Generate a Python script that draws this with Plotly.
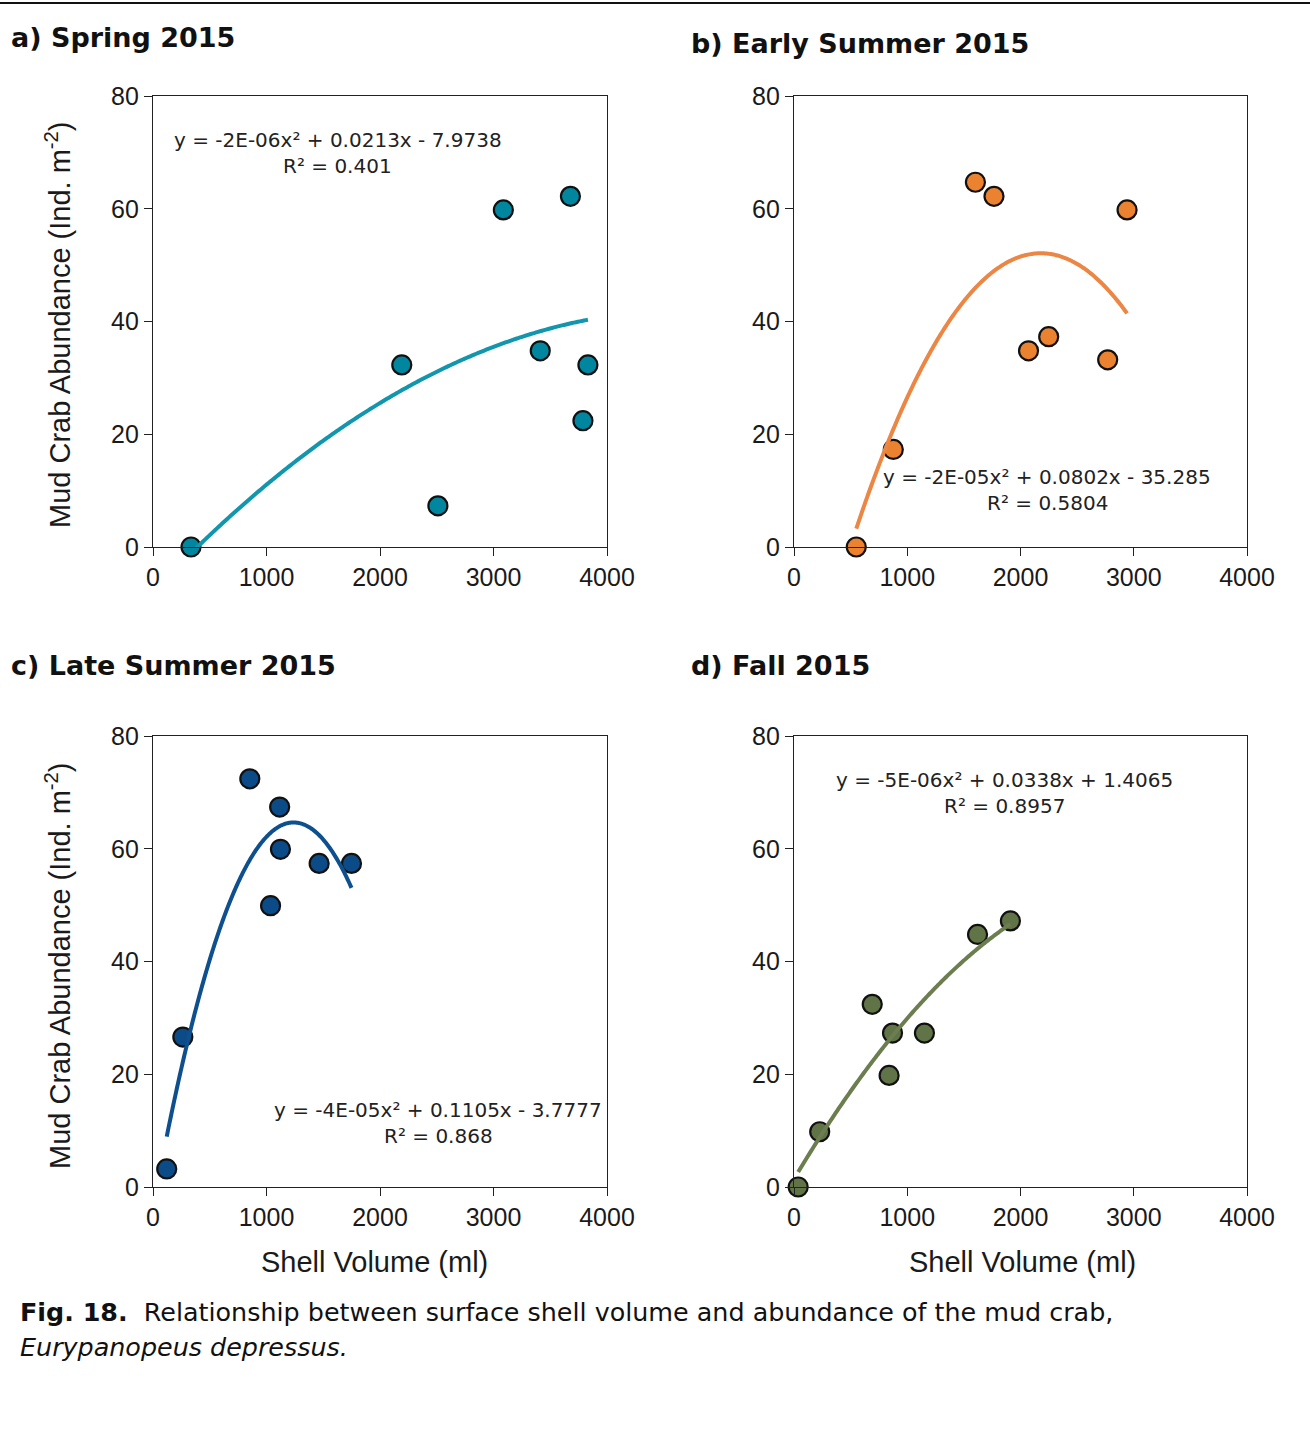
import numpy as np
import plotly.graph_objects as go

W, H = 1310, 1448

# ---- data: shell volume (ml) vs mud crab abundance (ind. m^-2) ----
spring_vol = [335, 2192, 2510, 3087, 3412, 3678, 3788, 3832]
spring_abund = [0.0, 32.3, 7.3, 59.8, 34.8, 62.2, 22.4, 32.3]

early_vol = [550, 877, 1602, 1766, 2071, 2249, 2770, 2941]
early_abund = [0.0, 17.3, 64.7, 62.2, 34.8, 37.3, 33.2, 59.8]

late_vol = [121, 263, 853, 1036, 1116, 1123, 1464, 1749]
late_abund = [3.2, 26.6, 72.4, 49.9, 67.4, 59.9, 57.4, 57.4]

fall_vol = [37, 227, 691, 840, 870, 1152, 1621, 1911]
fall_abund = [0.0, 9.8, 32.4, 19.8, 27.3, 27.3, 44.8, 47.2]

# quadratic trendline coefficients (a x^2 + b x + c)
spring_coef = [-2.27e-06, 0.0213, -7.9738]
early_coef = [-1.84e-05, 0.0802, -35.285]
late_coef = [-4.46e-05, 0.1105, -3.7777]
fall_coef = [-5.3e-06, 0.0338, 1.4065]

spring_r2 = "0.401"
early_r2 = "0.5804"
late_r2 = "0.868"
fall_r2 = "0.8957"

panel_titles = ["a) Spring 2015", "b) Early Summer 2015",
                "c) Late Summer 2015", "d) Fall 2015"]
x_ticks = [0, 1000, 2000, 3000, 4000]
y_ticks = [0, 20, 40, 60, 80]

# ---- styling ----
marker_colors = ["#00879F", "#EA822F", "#0B4C88", "#617447"]
line_colors = ["#1196AE", "#EB8644", "#0E4F8D", "#6C7D4F"]

# plot boxes in pixels: (left, right, top, bottom)
boxes = [(153, 607, 96, 547), (794, 1247, 96, 547),
         (153, 607, 736, 1187), (794, 1247, 736, 1187)]


def px(x):
    return x / W


def py(y):
    return 1 - y / H


def fmt_eq(coef, b_dec, c_dec):
    a, b, c = coef
    a_txt = f"{a:.0E}"
    sign_c = "-" if c < 0 else "+"
    return (f"y = {a_txt}x\u00b2 + {b:.{b_dec}f}x {sign_c} {abs(c):.{c_dec}f}")


panels = [
    (spring_vol, spring_abund, spring_coef, spring_r2, fmt_eq(spring_coef, 4, 4)),
    (early_vol, early_abund, early_coef, early_r2, fmt_eq(early_coef, 4, 3)),
    (late_vol, late_abund, late_coef, late_r2, fmt_eq(late_coef, 4, 4)),
    (fall_vol, fall_abund, fall_coef, fall_r2, fmt_eq(fall_coef, 4, 4)),
]

# equation label centres (pixels)
eq_pos = [(338, 140), (1047, 477), (438, 1110), (1004, 780)]

fig = go.Figure()
layout = dict(
    width=W, height=H,
    margin=dict(l=0, r=0, t=0, b=0, pad=0, autoexpand=False),
    paper_bgcolor="white", plot_bgcolor="white",
    showlegend=False,
)
annotations = []
AX_FONT = dict(family="Liberation Sans, Arial, sans-serif", size=25, color="#1a1a1a")
EQ_FONT = dict(family="DejaVu Sans, sans-serif", size=20, color="#222222")
TITLE_FONT = dict(family="DejaVu Sans, sans-serif", size=27, color="#111111")

for i, (xs, ys, coef, r2, eq) in enumerate(panels):
    n = i + 1
    xa = "x" if n == 1 else f"x{n}"
    ya = "y" if n == 1 else f"y{n}"
    l, r, t, b = boxes[i]
    common = dict(
        showgrid=False, zeroline=False, showline=True, linecolor="#222222",
        linewidth=1.3, mirror=True, ticks="outside", ticklen=8,
        tickwidth=1.3, tickcolor="#222222", tickfont=AX_FONT,
        automargin=False,
    )
    layout[f"xaxis{'' if n == 1 else n}"] = dict(
        domain=[px(l), px(r)], anchor=ya, range=[0, 4000],
        tickvals=x_ticks, ticktext=[str(v) for v in x_ticks], **common)
    layout[f"yaxis{'' if n == 1 else n}"] = dict(
        domain=[py(b), py(t)], anchor=xa, range=[0, 80],
        tickvals=y_ticks, ticktext=[str(v) for v in y_ticks], **common)

    # trendline over the data range
    xx = np.linspace(min(xs), max(xs), 200)
    yy = np.polyval(coef, xx)
    fig.add_trace(go.Scatter(
        x=xs, y=ys, mode="markers", xaxis=xa, yaxis=ya, cliponaxis=False,
        marker=dict(size=19, color=marker_colors[i],
                    line=dict(color="#111111", width=2.2))))
    fig.add_trace(go.Scatter(
        x=xx, y=yy, mode="lines", xaxis=xa, yaxis=ya,
        line=dict(color=line_colors[i], width=4, simplify=False)))

    ex, ey = eq_pos[i]
    annotations.append(dict(x=px(ex), y=py(ey), xref="paper", yref="paper",
                            text=eq, showarrow=False, font=EQ_FONT,
                            xanchor="center", yanchor="middle"))
    annotations.append(dict(x=px(ex), y=py(ey + 26), xref="paper", yref="paper",
                            text=f"R\u00b2 = {r2}", showarrow=False, font=EQ_FONT,
                            xanchor="center", yanchor="middle"))

# panel headings
title_pos = [(9, 38), (689, 44), (9, 665), (689, 665)]
for (tx, ty), txt in zip(title_pos, panel_titles):
    annotations.append(dict(x=px(tx), y=py(ty), xref="paper", yref="paper",
                            text=f"<b>{txt}</b>", showarrow=False, font=TITLE_FONT,
                            xanchor="left", yanchor="middle"))

# axis titles
YT_FONT = dict(family="Liberation Sans, Arial, sans-serif", size=29, color="#1a1a1a")
for cy in (325, 966):
    annotations.append(dict(x=px(58), y=py(cy), xref="paper", yref="paper",
                            text="Mud Crab Abundance (Ind. m<sup>-2</sup>)",
                            textangle=-90, showarrow=False, font=YT_FONT,
                            xanchor="center", yanchor="middle"))
for cx in (375, 1022):
    annotations.append(dict(x=px(cx), y=py(1262), xref="paper", yref="paper",
                            text="Shell Volume (ml)", showarrow=False, font=YT_FONT,
                            xanchor="center", yanchor="middle"))

# caption
CAP_FONT = dict(family="DejaVu Sans, sans-serif", size=25.4, color="#111111")
annotations.append(dict(
    x=px(18), y=py(1312), xref="paper", yref="paper", xanchor="left",
    yanchor="middle", showarrow=False, font=CAP_FONT,
    text="<b>Fig. 18.</b>  Relationship between surface shell volume and "
         "abundance of the mud crab,"))
annotations.append(dict(
    x=px(18), y=py(1347), xref="paper", yref="paper", xanchor="left",
    yanchor="middle", showarrow=False, font=CAP_FONT,
    text="<i>Eurypanopeus depressus.</i>"))

layout["annotations"] = annotations
layout["shapes"] = [
    dict(type="line", xref="paper", yref="paper",
         x0=0, x1=1, y0=py(3), y1=py(3),
         line=dict(color="#111111", width=2)),
]
fig.update_layout(**layout)
fig.write_html("out.html")
